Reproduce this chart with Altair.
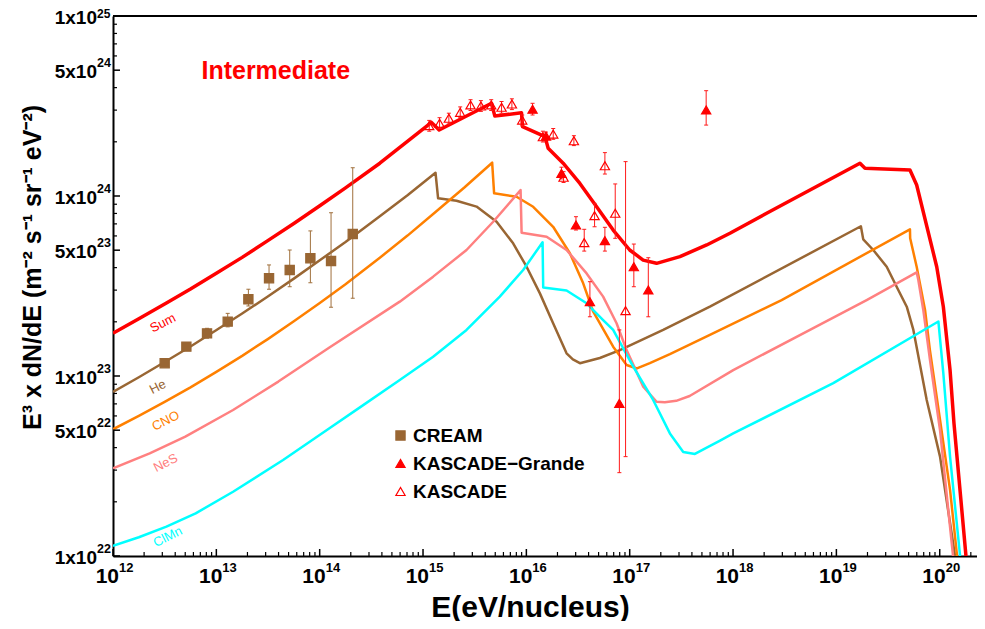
import altair as alt
import pandas as pd
import numpy as np

# ---------------- data (log10 E [eV], log10 E^3 dN/dE) ----------------
components = ["Sum", "He", "CNO", "NeS", "ClMn"]
comp_colors = ["#ff0000", "#996633", "#ff8000", "#ff8080", "#00ffff"]

sum_logE = [12.0, 12.25, 12.517, 12.75, 13.0, 13.25, 13.498, 13.75, 14.001, 14.25,
            14.582, 15.082, 15.156, 15.663, 15.695, 15.953, 15.963, 16.18, 16.211, 16.356,
            16.518, 16.68, 16.84, 17.0, 17.13, 17.26, 17.486, 17.745, 17.97, 18.325,
            19.228, 19.277, 19.712, 19.777, 19.971, 20.035, 20.1, 20.138, 20.254]
sum_logF = [23.237, 23.318, 23.406, 23.483, 23.571, 23.659, 23.752, 23.847, 23.946, 24.045,
            24.182, 24.409, 24.367, 24.515, 24.444, 24.463, 24.385, 24.33, 24.265, 24.182,
            24.07, 23.94, 23.811, 23.7, 23.644, 23.626, 23.663, 23.728, 23.793, 23.904,
            24.182, 24.154, 24.144, 24.061, 23.607, 23.385, 23.033, 22.737, 22.0]

he_logE = [12.0, 12.25, 12.5, 12.75, 12.994, 13.25, 13.498, 13.75, 14.001, 14.25,
           14.582, 14.85, 15.121, 15.146, 15.324, 15.518, 15.712, 15.872, 16.002, 16.131,
           16.259, 16.389, 16.45, 16.518, 16.711, 16.905, 17.324, 17.776, 19.237, 19.26,
           19.357, 19.487, 19.599, 19.681, 19.745, 19.874, 20.003, 20.1, 20.148]
he_logF = [22.911, 22.993, 23.078, 23.164, 23.253, 23.347, 23.442, 23.541, 23.643, 23.744,
           23.887, 24.004, 24.129, 23.987, 23.974, 23.941, 23.857, 23.737, 23.607, 23.459,
           23.293, 23.126, 23.092, 23.071, 23.1, 23.144, 23.256, 23.385, 23.832, 23.759,
           23.7, 23.607, 23.478, 23.385, 23.256, 22.867, 22.552, 22.183, 22.0]

cno_logE = [12.0, 12.25, 12.5, 12.75, 13.0, 13.25, 13.498, 13.75, 14.001, 14.25,
            14.582, 14.85, 15.121, 15.4, 15.669, 15.688, 15.905, 16.066, 16.259, 16.421,
            16.55, 16.647, 16.84, 16.97, 17.07, 17.195, 17.389, 17.776, 18.47, 19.712,
            19.714, 19.777, 19.858, 19.905, 20.003, 20.1, 20.168]
cno_logF = [22.704, 22.778, 22.856, 22.937, 23.023, 23.112, 23.205, 23.304, 23.406, 23.51,
            23.657, 23.78, 23.911, 24.047, 24.185, 24.015, 23.996, 23.94, 23.829, 23.682,
            23.515, 23.357, 23.163, 23.061, 23.042, 23.072, 23.122, 23.228, 23.422, 23.815,
            23.765, 23.607, 23.367, 23.144, 22.756, 22.367, 22.0]

nes_logE = [12.0, 12.355, 12.7, 13.162, 13.6, 14.098, 14.775, 15.098, 15.421, 15.679,
            15.944, 15.954, 16.196, 16.389, 16.583, 16.743, 16.873, 16.97, 17.131, 17.26,
            17.34, 17.45, 17.58, 18.002, 18.744, 19.293, 19.777, 19.793, 19.841, 19.906,
            20.003, 20.129]
nes_logF = [22.487, 22.57, 22.663, 22.811, 22.969, 23.16, 23.413, 23.552, 23.7, 23.857,
            24.033, 23.796, 23.774, 23.7, 23.57, 23.441, 23.293, 23.144, 22.941, 22.857,
            22.854, 22.862, 22.889, 23.033, 23.256, 23.422, 23.576, 23.533, 23.367, 23.089,
            22.7, 22.0]

clmn_logE = [12.0, 12.25, 12.517, 12.8, 13.162, 13.646, 14.098, 14.4, 14.775, 15.098,
             15.421, 15.743, 15.969, 16.157, 16.163, 16.389, 16.583, 16.743, 16.84, 17.034,
             17.227, 17.389, 17.518, 17.631, 17.75, 17.87, 18.002, 18.97, 19.987, 20.035,
             20.1, 20.197]
clmn_logF = [22.056, 22.104, 22.163, 22.237, 22.357, 22.533, 22.711, 22.83, 22.978, 23.107,
             23.256, 23.441, 23.589, 23.743, 23.492, 23.475, 23.404, 23.311, 23.256, 23.052,
             22.867, 22.681, 22.578, 22.567, 22.603, 22.64, 22.681, 22.96, 23.303, 23.015,
             22.552, 22.0]

# CREAM (He)
cream_logE = [12.5, 12.71, 12.91, 13.11, 13.31, 13.51, 13.71, 13.91, 14.11, 14.32]
cream_logF = [23.071, 23.163, 23.237, 23.302, 23.426, 23.543, 23.589, 23.654, 23.639, 23.789]
cream_lo = [23.06, 23.15, 23.21, 23.273, 23.389, 23.482, 23.496, 23.518, 23.382, 23.432]
cream_hi = [23.08, 23.18, 23.265, 23.348, 23.482, 23.617, 23.7, 23.806, 23.907, 24.157]

# KASCADE (open triangles)
kas_logE = [15.06, 15.16, 15.25, 15.36, 15.46, 15.56, 15.66, 15.76, 15.86, 15.96,
            16.16, 16.26, 16.36, 16.46, 16.56, 16.66, 16.76, 16.86, 16.96]
kas_logF = [24.391, 24.404, 24.432, 24.465, 24.506, 24.5, 24.506, 24.493, 24.511, 24.422,
            24.329, 24.344, 24.104, 24.307, 23.741, 23.891, 24.168, 23.904, 23.363]
kas_lo = [24.36, 24.375, 24.40, 24.435, 24.475, 24.47, 24.475, 24.46, 24.48, 24.39,
          24.30, 24.315, 24.075, 24.28, 23.694, 23.829, 24.122, 23.765, 22.552]
kas_hi = [24.42, 24.435, 24.46, 24.495, 24.535, 24.53, 24.535, 24.525, 24.54, 24.45,
          24.36, 24.375, 24.135, 24.335, 23.815, 23.959, 24.241, 24.067, 24.191]

# KASCADE-Grande (filled triangles)
kg_logE = [16.06, 16.19, 16.34, 16.48, 16.615, 16.76, 16.9, 17.04, 17.18, 17.74]
kg_logF = [24.482, 24.333, 24.126, 23.839, 23.413, 23.752, 22.848, 23.607, 23.478, 24.478]
kg_lo = [24.45, 24.31, 24.095, 23.811, 23.329, 23.694, 22.463, 23.496, 23.329, 24.394]
kg_hi = [24.515, 24.355, 24.16, 23.885, 23.524, 23.826, 23.256, 23.733, 23.657, 24.585]

series_names = ["CREAM", "KASCADE\u2212Grande", "KASCADE"]

# curve labels (log E, log F)
label_logE = [12.483, 12.434, 12.51, 12.51, 12.53]
label_logF = [23.294, 22.939, 22.75, 22.517, 22.106]

# tick labels
x_tick_values = [1e12, 1e13, 1e14, 1e15, 1e16, 1e17, 1e18, 1e19, 1e20]
x_tick_base = ["10"] * 9
x_tick_exp = ["12", "13", "14", "15", "16", "17", "18", "19", "20"]
y_tick_values = [1e22, 5e22, 1e23, 5e23, 1e24, 5e24, 1e25]
y_tick_base = ["1x10", "5x10", "1x10", "5x10", "1x10", "5x10", "1x10"]
y_tick_exp = ["22", "22", "23", "23", "24", "24", "25"]

# ---------------- build tables ----------------
def curve_df(name, le, lf):
    return pd.DataFrame({"comp": name, "E": 10 ** np.array(le), "F": 10 ** np.array(lf),
                         "idx": np.arange(len(le))})

lines = pd.concat([
    curve_df("He", he_logE, he_logF),
    curve_df("CNO", cno_logE, cno_logF),
    curve_df("NeS", nes_logE, nes_logF),
    curve_df("ClMn", clmn_logE, clmn_logF),
])
sum_df = curve_df("Sum", sum_logE, sum_logF)

def pts_df(name, le, lf, lo, hi):
    return pd.DataFrame({"series": name, "E": 10 ** np.array(le), "F": 10 ** np.array(lf),
                         "lo": 10 ** np.array(lo), "hi": 10 ** np.array(hi)})

cream = pts_df(series_names[0], cream_logE, cream_logF, cream_lo, cream_hi)
kg = pts_df(series_names[1], kg_logE, kg_logF, kg_lo, kg_hi)
kas = pts_df(series_names[2], kas_logE, kas_logF, kas_lo, kas_hi)
points = pd.concat([cream, kg, kas])
kas_err = pd.concat([kg, kas])

labels = pd.DataFrame({"comp": components, "E": 10 ** np.array(label_logE),
                       "F": 10 ** np.array(label_logF)})

W, H = 864, 540
XMAX = 10 ** (12 + W / 103.34)

xlab = pd.DataFrame({"E": x_tick_values, "base": x_tick_base, "exp": x_tick_exp})
ylab = pd.DataFrame({"F": y_tick_values, "base": y_tick_base, "exp": y_tick_exp})
ylab_low = ylab[ylab["F"] < 1e25]
ylab_top = ylab[ylab["F"] >= 1e25]

# tick marks (inward)
xmaj = pd.DataFrame({"E": x_tick_values})
xmin = pd.DataFrame({"E": [m * 10.0 ** d for d in range(12, 21) for m in range(2, 10) if m * 10.0 ** d <= XMAX]})
ymaj = pd.DataFrame({"F": y_tick_values})
ymin = pd.DataFrame({"F": [m * 10.0 ** d for d in range(22, 25) for m in (2, 3, 4, 6, 7, 8, 9)]})

FONT = "Liberation Sans, Arial, sans-serif"

xscale = alt.Scale(type="log", domain=[1e12, XMAX], nice=False)
yscale = alt.Scale(type="log", domain=[1e22, 1e25], nice=False)

xaxis = alt.Axis(values=x_tick_values, labels=False, ticks=False, grid=False,
                 domainColor="black", domainWidth=2,
                 title="E(eV/nucleus)", titleFont=FONT, titleFontSize=30, titleFontWeight="bold",
                 titleColor="black", titleX=417, titleY=51, titleBaseline="middle",
                 titleAlign="center", titleAnchor="start")
yaxis = alt.Axis(values=y_tick_values, labels=False, ticks=False, grid=False,
                 domainColor="black", domainWidth=2,
                 title="E\u00b3 x dN/dE (m\u207b\u00b2 s\u207b\u00b9 sr\u207b\u00b9 eV\u207b\u00b2)",
                 titleFont=FONT, titleFontSize=25, titleFontWeight="bold", titleColor="black",
                 titleX=-81, titleY=251, titleAngle=270, titleBaseline="middle",
                 titleAlign="center", titleAnchor="start")

def X(f):
    return alt.X(f"{f}:Q", scale=xscale, axis=xaxis)

def Y(f):
    return alt.Y(f"{f}:Q", scale=yscale, axis=yaxis)

comp_color = alt.Color("comp:N", scale=alt.Scale(domain=components, range=comp_colors), legend=None)

comp_lines = alt.Chart(lines).mark_line(strokeWidth=2.5, clip=True, strokeJoin="round").encode(
    x=X("E"), y=Y("F"), color=comp_color, detail="comp:N", order=alt.Order("idx:Q"))
sum_line = alt.Chart(sum_df).mark_line(strokeWidth=3.5, clip=True, strokeJoin="round").encode(
    x=X("E"), y=Y("F"), color=comp_color, order=alt.Order("idx:Q"))

CB = "#a0703c"
KB = "#ff1a1a"
cream_bars = alt.Chart(cream).mark_rule(color=CB, strokeWidth=1).encode(
    x=X("E"), y=Y("lo"), y2="hi")
cream_caps_lo = alt.Chart(cream).mark_rule(color=CB, strokeWidth=1, xOffset=-2, x2Offset=2).encode(
    x=X("E"), x2="E", y=Y("lo"))
cream_caps_hi = alt.Chart(cream).mark_rule(color=CB, strokeWidth=1, xOffset=-2, x2Offset=2).encode(
    x=X("E"), x2="E", y=Y("hi"))

kas_bars = alt.Chart(kas_err).mark_rule(color=KB, strokeWidth=1).encode(
    x=X("E"), y=Y("lo"), y2="hi")
kas_caps_lo = alt.Chart(kas_err).mark_rule(color=KB, strokeWidth=1, xOffset=-2, x2Offset=2).encode(
    x=X("E"), x2="E", y=Y("lo"))
kas_caps_hi = alt.Chart(kas_err).mark_rule(color=KB, strokeWidth=1, xOffset=-2, x2Offset=2).encode(
    x=X("E"), x2="E", y=Y("hi"))

leg = alt.Legend(title=None, orient="none", legendX=278, legendY=410, labelFont=FONT,
                 labelFontSize=19, labelFontWeight="bold", labelColor="black", rowPadding=8,
                 labelOffset=3, padding=0, symbolStrokeWidth=1.2, symbolSize=85, labelLimit=0)

pts = alt.Chart(points).mark_point(filled=True, size=85, strokeWidth=1.2, opacity=1).encode(
    x=X("E"), y=Y("F"),
    fill=alt.Fill("series:N", scale=alt.Scale(domain=series_names, range=["#996633", "#ff0000", "transparent"]), legend=leg),
    stroke=alt.Stroke("series:N", scale=alt.Scale(domain=series_names, range=["#996633", "#ff0000", "#ff0000"]), legend=leg),
    shape=alt.Shape("series:N", scale=alt.Scale(domain=series_names, range=["square", "triangle-up", "triangle-up"]), legend=leg),
)

curve_labels = alt.Chart(labels).mark_text(angle=333, fontSize=13, font=FONT, align="center",
                                           baseline="middle").encode(
    x=X("E"), y=Y("F"), text="comp:N", color=comp_color)

title_df = pd.DataFrame({"E": [10 ** 13.575], "F": [10 ** 24.694], "t": ["Intermediate"]})
title_text = alt.Chart(title_df).mark_text(fontSize=25, font=FONT, fontWeight="bold", color="#ff0000",
                                           align="center", baseline="middle").encode(
    x=X("E"), y=Y("F"), text="t:N")

# tick labels with raised exponents
xl_base = alt.Chart(xlab).mark_text(align="right", baseline="alphabetic", fontSize=21, font=FONT,
                                    fontWeight="bold", color="black", dx=6).encode(
    x=X("E"), y=alt.value(H + 27), text="base:N")
xl_exp = alt.Chart(xlab).mark_text(align="left", baseline="alphabetic", fontSize=13, font=FONT,
                                   fontWeight="bold", color="black", dx=6).encode(
    x=X("E"), y=alt.value(H + 16), text="exp:N")
yl_base = alt.Chart(ylab).mark_text(align="right", baseline="middle", fontSize=19, font=FONT,
                                    fontWeight="bold", color="black", dy=1.5).encode(
    y=Y("F"), x=alt.value(-16), text="base:N")
yl_exp = alt.Chart(ylab_low).mark_text(align="left", baseline="middle", fontSize=12.5, font=FONT,
                                       fontWeight="bold", color="black", dy=-7).encode(
    y=Y("F"), x=alt.value(-16), text="exp:N")
yl_exp_top = alt.Chart(ylab_top).mark_text(align="left", baseline="top", fontSize=12, font=FONT,
                                           fontWeight="bold", color="black", dy=-7).encode(
    y=Y("F"), x=alt.value(-16), text="exp:N")

xt_major = alt.Chart(xmaj).mark_rule(color="black", strokeWidth=1.5).encode(
    x=X("E"), y=alt.value(H), y2=alt.value(H - 7))
xt_minor = alt.Chart(xmin).mark_rule(color="black", strokeWidth=1.2).encode(
    x=X("E"), y=alt.value(H), y2=alt.value(H - 4))
yt_major = alt.Chart(ymaj).mark_rule(color="black", strokeWidth=1.5).encode(
    y=Y("F"), x=alt.value(0), x2=alt.value(7))
yt_minor = alt.Chart(ymin).mark_rule(color="black", strokeWidth=1.2).encode(
    y=Y("F"), x=alt.value(0), x2=alt.value(4))

top_frame = alt.Chart(xmaj).mark_rule(color="black", strokeWidth=2).encode(
    x=alt.value(0), x2=alt.value(W), y=alt.value(0))

chart = alt.layer(
    comp_lines, sum_line,
    cream_bars, cream_caps_lo, cream_caps_hi,
    kas_bars, kas_caps_lo, kas_caps_hi,
    pts, curve_labels, title_text,
    xl_base, xl_exp, yl_base, yl_exp, yl_exp_top,
    xt_major, xt_minor, yt_major, yt_minor, top_frame,
).properties(
    width=W, height=H,
    autosize=alt.AutoSizeParams(type="none"),
    padding={"left": 105, "top": 8, "right": 0, "bottom": 65},
).configure_view(stroke=None).configure(background="white")

chart.save("out.html", embed_options={"renderer": "svg", "actions": False})
